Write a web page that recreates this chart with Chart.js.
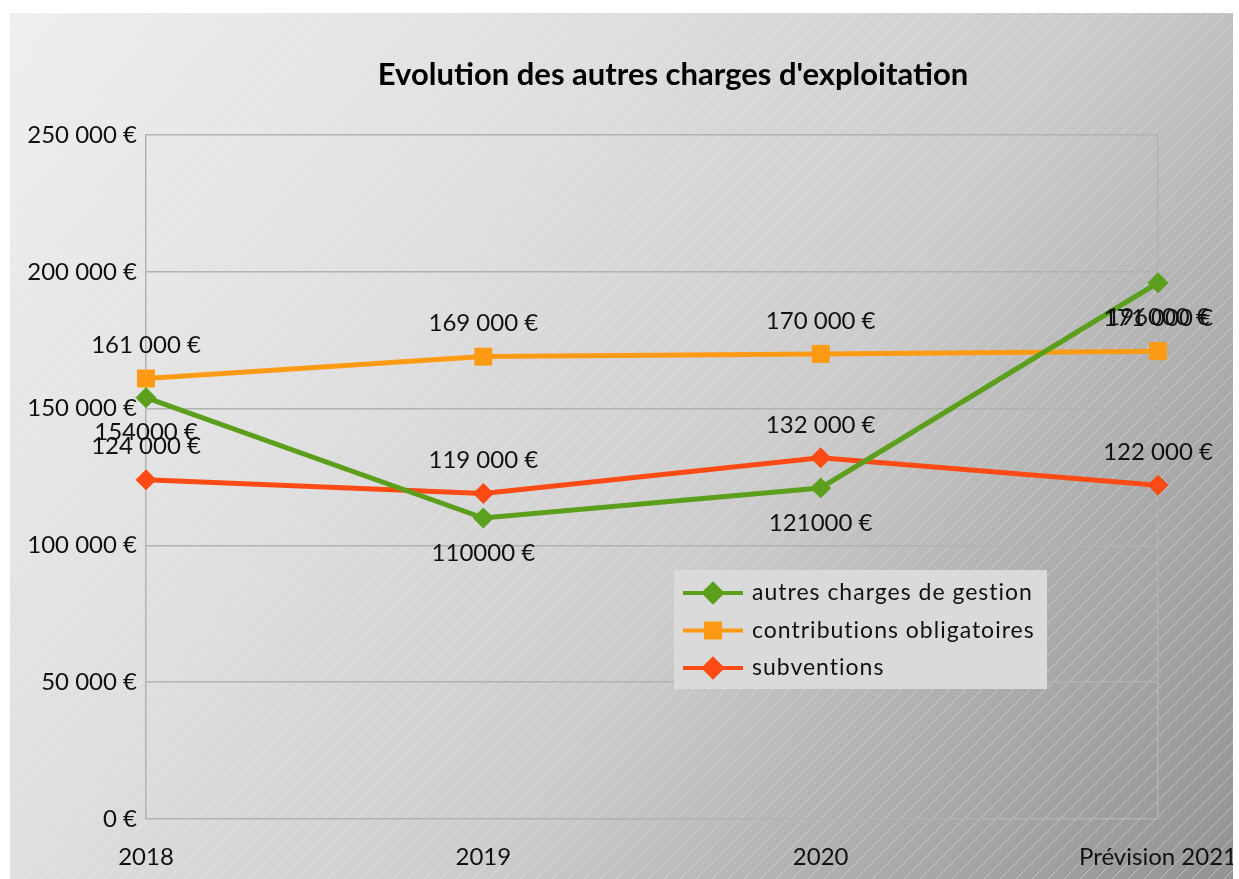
<!DOCTYPE html>
<html lang="fr">
<head>
<meta charset="utf-8">
<title>Evolution des autres charges d'exploitation</title>
<script src="https://cdn.jsdelivr.net/npm/chart.js@4.4.1/dist/chart.umd.min.js"></script>
<style>
    html, body { margin: 0; padding: 0; background: #fff; }
    #wrap { position: absolute; left: 10px; top: 13px; width: 1223px; height: 866px; }
</style>
</head>
<body>
<div id="wrap"><canvas id="chart"></canvas></div>
<script>
// values
const categories    = ['2018', '2019', '2020', 'Prévision 2021'];
const seriesNames   = ['autres charges de gestion', 'contributions obligatoires', 'subventions'];
const autresCharges = [154000, 110000, 121000, 196000];
const contributions = [161000, 169000, 170000, 171000];
const subventions   = [124000, 119000, 132000, 122000];
const yMin  = 0;
const yMax  = 250000;
const yStep = 50000;

const FONT   = 'Lato, "Open Sans", sans-serif';
const GREEN  = '#5b9f1d';
const ORANGE = '#fe9a14';
const RED    = '#fe4a14';
const GRID   = '#b2b2b2';

// "154 000 €" or "154000 €" (the green series has no thousands gap in the original)
function euro(v, grouped) {
    const s = String(v);
    return (grouped ? s.replace(/\B(?=(\d{3})+(?!\d))/g, ' ') : s) + ' €';
}

// ---- gradient + faint hatch behind everything ----
const backgroundPlugin = {
    id: 'bgHatch',
    beforeDraw(chart) {
        const { ctx, width, height } = chart;
        ctx.save();
        const g = ctx.createLinearGradient(0, 0, width, height);
        g.addColorStop(0,    '#efefef');
        g.addColorStop(0.33, '#dfdfdf');
        g.addColorStop(0.6,  '#cbcbcb');
        g.addColorStop(0.8,  '#ababab');
        g.addColorStop(1,    '#939393');
        ctx.fillStyle = g;
        ctx.fillRect(0, 0, width, height);

        // hatch barely shows on the light corner, clearer towards the dark one
        const h = ctx.createLinearGradient(0, 0, width, height);
        h.addColorStop(0,   'rgba(255,255,255,0.08)');
        h.addColorStop(0.4, 'rgba(255,255,255,0.28)');
        h.addColorStop(1,   'rgba(255,255,255,0.40)');
        ctx.strokeStyle = h;
        ctx.lineWidth = 1;
        ctx.beginPath();
        for (let k = -height; k < width; k += 16) {
            ctx.moveTo(k, height);
            ctx.lineTo(k + height, 0);
        }
        ctx.stroke();
        ctx.restore();
    },
};

// ---- title, drawn a bit right of centre like the original ----
const titlePlugin = {
    id: 'offsetTitle',
    afterDraw(chart) {
        const ctx = chart.ctx;
        ctx.save();
        ctx.font = 'bold 31px ' + FONT;
        ctx.fillStyle = '#000';
        ctx.textAlign = 'center';
        ctx.textBaseline = 'middle';
        ctx.fillText("Evolution des autres charges d'exploitation", 663, 62);
        ctx.restore();
    },
};

// ---- value labels above / below each point ----
const valueLabelPlugin = {
    id: 'valueLabels',
    afterDatasetsDraw(chart) {
        const ctx = chart.ctx;
        ctx.save();
        ctx.font = '24px ' + FONT;
        ctx.fillStyle = '#111';
        ctx.textAlign = 'center';
        ctx.textBaseline = 'middle';
        chart.data.datasets.forEach((ds, i) => {
            const meta = chart.getDatasetMeta(i);
            meta.data.forEach((pt, j) => {
                const dy = ds.labelBelow ? 35 : -33;
                ctx.fillText(euro(ds.data[j], ds.grouped), pt.x, pt.y + dy);
            });
        });
        ctx.restore();
    },
};

// ---- legend box sitting inside the plot, lower right ----
const legendPlugin = {
    id: 'boxLegend',
    afterDraw(chart) {
        const { ctx, chartArea } = chart;
        const x0 = chartArea.left + 528;
        const y0 = chartArea.top + 435;
        ctx.save();
        ctx.fillStyle = '#dadada';
        ctx.fillRect(x0, y0, 373, 119);
        ctx.font = '23px ' + FONT;
        ctx.letterSpacing = '1px';
        ctx.textBaseline = 'middle';
        chart.data.datasets.forEach((ds, i) => {
            const cy = y0 + 23 + i * 37.5;
            ctx.strokeStyle = ds.borderColor;
            ctx.lineWidth = 4;
            ctx.beginPath();
            ctx.moveTo(x0 + 9, cy);
            ctx.lineTo(x0 + 69, cy);
            ctx.stroke();
            Chart.helpers.drawPoint(ctx, {
                pointStyle: ds.pointStyle,
                radius: ds.pointStyle === 'rect' ? 10 : 9,
                borderWidth: 1,
                rotation: 0,
            }, x0 + 39, cy);
            ctx.fillStyle = ds.borderColor;
            ctx.strokeStyle = ds.borderColor;
            ctx.fill();
            ctx.fillStyle = '#111';
            ctx.fillText(ds.label, x0 + 78, cy);
        });
        ctx.restore();
    },
};

function makeSeries(label, data, color, style, labelBelow, grouped) {
    return {
        label,
        data,
        borderColor:          color,
        backgroundColor:      color,
        pointBackgroundColor: color,
        pointBorderColor:     color,
        borderWidth:          5,
        pointBorderWidth:     1,
        pointStyle:           style,
        pointRadius:          style === 'rect' ? 12 : 10,
        pointHoverRadius:     style === 'rect' ? 12 : 10,
        tension:              0,
        labelBelow,
        grouped,
    };
}

const lastIndex = categories.length - 1;

new Chart(document.getElementById('chart'), {
    type: 'line',
    data: {
        labels: categories,
        datasets: [
            makeSeries(seriesNames[0], autresCharges, GREEN,  'rectRot', true,  false),
            makeSeries(seriesNames[1], contributions, ORANGE, 'rect',    false, true),
            makeSeries(seriesNames[2], subventions,   RED,    'rectRot', false, true),
        ],
    },
    options: {
        responsive: true,
        maintainAspectRatio: false,
        animation: false,
        layout: { padding: { top: 122, right: 75, left: 0, bottom: 0 } },
        scales: {
            x: {
                offset: false,
                afterFit(scale) {
                    scale.height = 60;
                    // let "Prévision 2021" hang past the plot edge instead of shrinking it
                    scale.paddingLeft = 0;
                    scale.paddingRight = 0;
                },
                grid: {
                    // only the right-hand frame line, no inner verticals
                    color: (ctx) => ctx.index === lastIndex ? GRID : 'rgba(0,0,0,0)',
                    lineWidth: 1.5,
                    drawTicks: false,
                },
                border: { display: false },
                ticks: {
                    color: '#111',
                    padding: 24,
                    maxRotation: 0,
                    font: { size: 24, family: FONT },
                },
            },
            y: {
                min: yMin,
                max: yMax,
                afterFit(scale) { scale.width = 136; },
                grid: { color: GRID, lineWidth: 1.5, drawTicks: false },
                border: { display: true, color: GRID, width: 1.5 },
                ticks: {
                    stepSize: yStep,
                    color: '#111',
                    padding: 9,
                    font: { size: 24, family: FONT },
                    callback: (v) => euro(v, true),
                },
            },
        },
        plugins: {
            legend:  { display: false },
            title:   { display: false },
            tooltip: { enabled: false },
        },
    },
    plugins: [backgroundPlugin, valueLabelPlugin, legendPlugin, titlePlugin],
});
</script>
</body>
</html>
